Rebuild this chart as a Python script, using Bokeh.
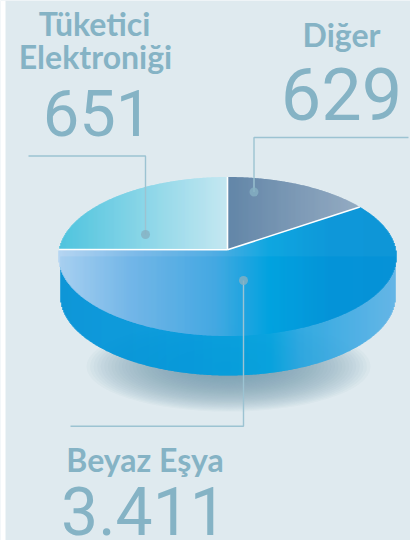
from bokeh.plotting import figure
from bokeh.embed import file_html
from bokeh.resources import INLINE
from bokeh.models import Range1d
from bokeh.core.properties import value
import numpy as np

# ---- chart content
categories = ["Tüketici Elektroniği", "Diğer", "Beyaz Eşya"]
value_labels = ["651", "629", "3.411"]
# slice extents as drawn in the picture (degrees around the tilted disc)
slice_start_deg = [90, 38.5, 175]
slice_end_deg = [175, 90, 398.5]

BG = "#dfeaef"
TEXT = "#85b3c5"
LEADER = "#9cc3d2"

CX, CY, RX, RY = 227.0, 256.0, 169.0, 79.5          # top face
BX, BY, BRX, BRY = 227.5, 296.0, 167.5, 79.0        # bottom face
AX, AY = 227.0, 249.3                               # apex of the slices

grad_tuk = [(59, "#45c1dd"), (227, "#c3e7f1")]
grad_dig = [(227, "#5a7fa3"), (359, "#8fa7bf")]
grad_bey = [(58, "#b3d4f2"), (130, "#7ab8e8"), (215, "#48a9e2"), (270, "#00a2df"), (330, "#0092d7"), (396, "#0091d6")]
grad_side = [(60, "#0091d6"), (190, "#0099dc"), (270, "#00a2df"), (300, "#28a6e0"), (395, "#5db2e6")]


def hex2rgb(h):
    return np.array([int(h[i:i + 2], 16) for i in (1, 3, 5)], dtype=float)


def color_at(grad, x):
    xs = [g[0] for g in grad]
    cs = np.array([hex2rgb(g[1]) for g in grad])
    rgb = [np.interp(x, xs, cs[:, i]) for i in range(3)]
    return "#%02x%02x%02x" % tuple(int(round(v)) for v in rgb)


def slice_poly(a0, a1):
    t = np.radians(np.linspace(a0, a1, 240))
    px = np.r_[AX, CX + RX * np.cos(t)]
    py = np.r_[AY, CY - RY * np.sin(t)]
    return px, py


def strips(px, py, grad):
    L, R, T, B, C = [], [], [], [], []
    qx = np.arange(np.floor(px.min()), np.ceil(px.max()), 1.0)
    nx, ny = np.r_[px[1:], px[0]], np.r_[py[1:], py[0]]
    for x in qx:
        xm = x + 0.5
        ys = []
        for x0, y0, x1, y1 in zip(px, py, nx, ny):
            if (x0 - xm) * (x1 - xm) <= 0 and x0 != x1:
                ys.append(y0 + (xm - x0) / (x1 - x0) * (y1 - y0))
        if len(ys) < 2:
            continue
        L.append(x - 0.25); R.append(x + 1.25)
        T.append(min(ys)); B.append(max(ys))
        C.append(color_at(grad, xm))
    return dict(left=L, right=R, top=T, bottom=B, color=C)


p = figure(width=410, height=540, output_backend="svg", toolbar_location=None,
           x_range=Range1d(0, 410), y_range=Range1d(540, 0),
           min_border=0, min_border_left=0, min_border_right=0, min_border_top=0, min_border_bottom=0,
           background_fill_color=BG, border_fill_color=BG, outline_line_color=None)
p.axis.visible = False
p.grid.visible = False

# white strip on the left edge of the scan
p.quad(left=[0], right=[5], top=[0], bottom=[540], fill_color="white", line_color=None)

# soft shadow beneath the disc
N = 40
for i in range(N):
    f = 1 - i / N
    p.ellipse(x=228, y=366, width=2 * 142 * f, height=2 * 45 * f, fill_color="#7fa6b6",
              fill_alpha=0.05, line_color=None)

# side wall
xs = np.arange(60.0, 395.0, 1.0)
side = dict(left=list(xs - 0.25), right=list(xs + 1.25),
            top=[float(CY) for _ in xs],
            bottom=list(BY + BRY * np.sqrt(np.clip(1 - ((xs + 0.5 - BX) / BRX) ** 2, 0, 1))),
            color=[color_at(grad_side, x + 0.5) for x in xs])
p.quad(source=side, left="left", right="right", top="top", bottom="bottom", fill_color="color", line_color=None)

# top face slices
for a0, a1, g in zip(slice_start_deg, slice_end_deg, [grad_tuk, grad_dig, grad_bey]):
    px, py = slice_poly(a0, a1)
    p.quad(source=strips(px, py, g), left="left", right="right", top="top", bottom="bottom",
           fill_color="color", line_color=None)

# white separators
sep_angles = [slice_end_deg[0], slice_start_deg[0], slice_start_deg[1]]
for a in sep_angles:
    t = np.radians(a)
    p.line([AX, CX + RX * np.cos(t)], [AY, CY - RY * np.sin(t)], line_color="white", line_width=1.6)

# leaders
p.line([28, 145, 145], [155.5, 155.5, 234], line_color=LEADER, line_width=1.4)
p.line([408, 253.5, 253.5], [137, 137, 191.5], line_color=LEADER, line_width=1.4)
p.line([243, 243, 70], [280, 425.7, 425.7], line_color=LEADER, line_width=1.4)
p.scatter([145, 253.5, 243], [234, 191.5, 280], size=9, fill_color="#86b0c2", fill_alpha=0.8, line_color=None)


def title(x, y, s):
    p.text([x], [y], text=[s], text_font=value("Lato"), text_font_size="32px", text_color=TEXT,
           text_align="center", text_baseline="alphabetic", text_font_style="bold", y_offset=-12)


def number(x, y, s, size=65):
    p.text([x], [y], text=[s], text_font=value("Roboto"), text_font_size="%dpx" % size, text_color=TEXT,
           text_align="center", text_baseline="alphabetic", y_offset=-round(size * 0.354))


tuk, elek = categories[0].split(" ")
title(94, 35, tuk)
title(95, 68, elek)
number(97, 135, value_labels[0])
title(341, 46, categories[1])
number(341, 118, value_labels[1], 72)
title(144.5, 471, categories[2])
number(143.5, 533, value_labels[2], 66)

open("out.html", "w").write(file_html(p, INLINE))
